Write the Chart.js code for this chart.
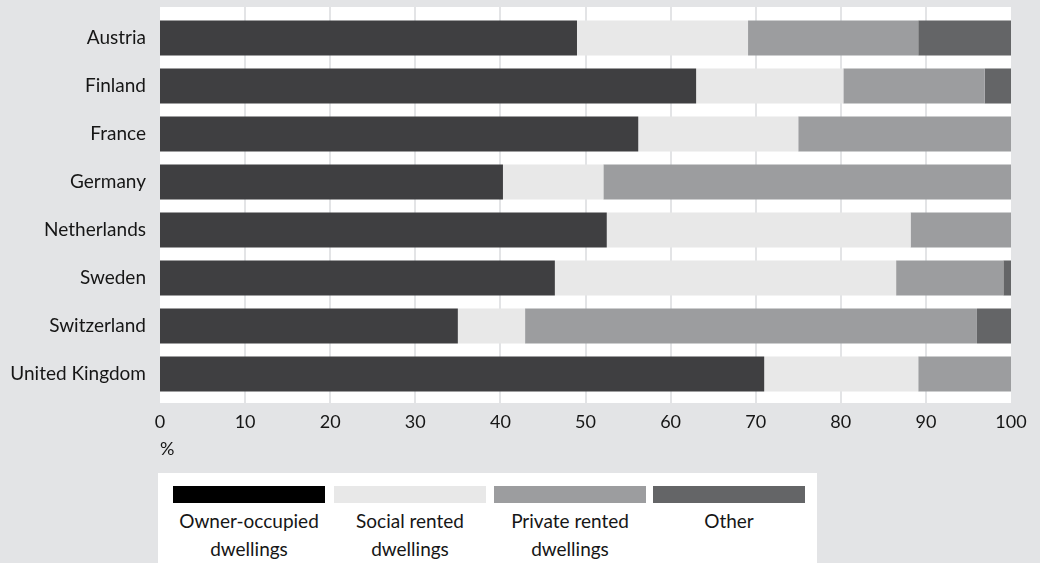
<!DOCTYPE html>
<html>
<head>
<meta charset="utf-8">
<script src="https://cdn.jsdelivr.net/npm/chart.js@4.4.1/dist/chart.umd.min.js"></script>
<style>
  html, body { margin: 0; padding: 0; background: #e3e4e6; }
  #wrap { position: relative; width: 1040px; height: 563px; }
  #c { position: absolute; left: 0; top: 0; }
  #legend {
    position: absolute; left: 158px; top: 473px; width: 659px; height: 90px;
    background: #ffffff; font-family: Lato, "Open Sans", sans-serif; font-size: 19px; color: #161616;
  }
  .item { position: absolute; top: 13px; width: 152px; text-align: center; }
  .sw { height: 17px; width: 152px; }
  .lbl { margin-top: 4px; line-height: 28px; }
</style>
</head>
<body>
<div id="wrap">
  <canvas id="c" width="1040" height="563"></canvas>
  <div id="legend"></div>
</div>
<script>
// Housing tenure shares by country, in per cent
const countries = ["Austria", "Finland", "France", "Germany", "Netherlands", "Sweden", "Switzerland", "United Kingdom"];
const ownerOccupied = [49.0, 63.0, 56.2, 40.3, 52.5, 46.4, 35.0, 71.0];
const socialRented  = [20.1, 17.3, 18.8, 11.8, 35.7, 40.1,  7.9, 18.1];
const privateRented = [20.0, 16.6, 25.0, 47.9, 11.8, 12.6, 53.1, 10.9];
const other         = [10.9,  3.1,  0.0,  0.0,  0.0,  0.9,  4.0,  0.0];
const xTicks = [0, 10, 20, 30, 40, 50, 60, 70, 80, 90, 100];

const seriesNames = [["Owner-occupied", "dwellings"], ["Social rented", "dwellings"], ["Private rented", "dwellings"], ["Other"]];
const barColors = ["#3f3f41", "#e8e8e8", "#9c9d9f", "#646567"];
const keyColors = ["#000000", "#e8e8e8", "#9c9d9f", "#646567"];

const FONT = "Lato, 'Open Sans', sans-serif";

// White plot panel with light vertical grid lines, slightly taller than the bar bands
const panel = {
  id: "panel",
  beforeDatasetsDraw(chart) {
    const { ctx, chartArea: a, scales: { x } } = chart;
    const top = a.top - 7, bottom = a.bottom + 5;
    ctx.save();
    ctx.fillStyle = "#ffffff";
    ctx.fillRect(a.left, top, a.right - a.left, bottom - top);
    ctx.strokeStyle = "#e3e4e6";
    ctx.lineWidth = 2;
    xTicks.forEach(v => {
      if (v === 0 || v === 100) return;
      const px = Math.round(x.getPixelForValue(v));
      ctx.beginPath();
      ctx.moveTo(px, top);
      ctx.lineTo(px, bottom);
      ctx.stroke();
    });
    ctx.restore();
  }
};

const data = {
  labels: countries,
  datasets: [ownerOccupied, socialRented, privateRented, other].map((vals, i) => ({
    label: seriesNames[i].join(" "),
    data: vals,
    backgroundColor: barColors[i],
    borderWidth: 0,
    barPercentage: 0.73,
    categoryPercentage: 1.0
  }))
};

new Chart(document.getElementById("c"), {
  type: "bar",
  data,
  plugins: [panel],
  options: {
    indexAxis: "y",
    responsive: false,
    animation: false,
    layout: { padding: { top: 14, right: 29, bottom: 99, left: 0 } },
    plugins: { legend: { display: false }, tooltip: { enabled: false } },
    scales: {
      x: {
        stacked: true,
        min: 0, max: 100,
        afterBuildTicks(s) { s.ticks = xTicks.map(v => ({ value: v })); },
        afterFit(s) { s.height = 66; s.paddingLeft = 0; s.paddingRight = 0; },
        grid: { display: false, drawTicks: false },
        border: { display: false },
        ticks: { color: "#161616", padding: 13, font: { family: FONT, size: 18 } },
        title: { display: true, text: "%", align: "start", color: "#161616", padding: { top: 8 }, font: { family: FONT, size: 18 } }
      },
      y: {
        stacked: true,
        afterFit(s) { s.width = 160; s.paddingTop = 0; s.paddingBottom = 0; },
        grid: { display: false, drawTicks: false },
        border: { display: false },
        ticks: { color: "#161616", padding: 14, font: { family: FONT, size: 19 } }
      }
    }
  }
});

// Key below the chart: a swatch above each wrapped series name
const legend = document.getElementById("legend");
const itemLeft = [15, 176, 336, 495];
seriesNames.forEach((lines, i) => {
  const item = document.createElement("div");
  item.className = "item";
  item.style.left = itemLeft[i] + "px";
  const sw = document.createElement("div");
  sw.className = "sw";
  sw.style.background = keyColors[i];
  const lbl = document.createElement("div");
  lbl.className = "lbl";
  lbl.innerHTML = lines.join("<br>");
  item.appendChild(sw);
  item.appendChild(lbl);
  legend.appendChild(item);
});
</script>
</body>
</html>
